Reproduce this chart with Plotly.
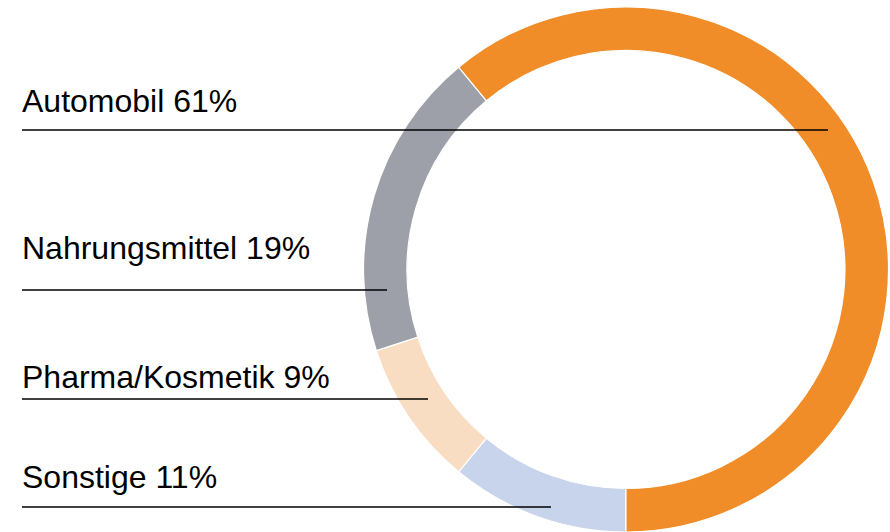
import plotly.graph_objects as go

categories = ["Automobil", "Nahrungsmittel", "Pharma/Kosmetik", "Sonstige"]
shares = [61, 19, 9, 11]
colors = ["#F08D29", "#9EA0A9", "#F9DDC3", "#C8D4EB"]

W, H = 890, 532
top = 7
r = (H - top) / 2
cx = 626

# drawn clockwise from 6 o'clock in reverse order -> Automobil runs counterclockwise from the bottom
fig = go.Figure(go.Pie(
    labels=categories[::-1],
    values=shares[::-1],
    sort=False,
    direction="clockwise",
    rotation=180,
    hole=0.834,
    textinfo="none",
    hoverinfo="label+percent",
    marker=dict(colors=colors[::-1], line=dict(color="white", width=1.2)),
    domain=dict(x=[(cx - r) / W, (cx + r) / W], y=[0, 1 - top / H]),
    showlegend=False,
))

# label rows: (text y centre px, line y px, line end x px)
rows = [(101, 130, 828), (248, 290, 387), (377, 399, 428), (477, 507, 551)]
annotations = []
shapes = []
for (name, val), (ty, ly, lx) in zip(zip(categories, shares), rows):
    annotations.append(dict(
        x=20 / W, y=1 - ty / H, xref="paper", yref="paper",
        xanchor="left", yanchor="middle", showarrow=False,
        text=f"{name} {val}%",
        font=dict(family="Liberation Sans, Arial, sans-serif", size=32, color="#000000"),
    ))
    shapes.append(dict(
        type="line", xref="paper", yref="paper",
        x0=22 / W, x1=lx / W, y0=1 - ly / H, y1=1 - ly / H,
        line=dict(color="#000000", width=1.5),
    ))

fig.update_layout(
    width=W, height=H,
    margin=dict(l=0, r=0, t=0, b=0),
    paper_bgcolor="white", plot_bgcolor="white",
    annotations=annotations, shapes=shapes,
)

fig.write_html(
    "out.html",
    config={"displayModeBar": False},
    post_script="document.body.style.margin='0';document.body.style.overflow='hidden';",
)
